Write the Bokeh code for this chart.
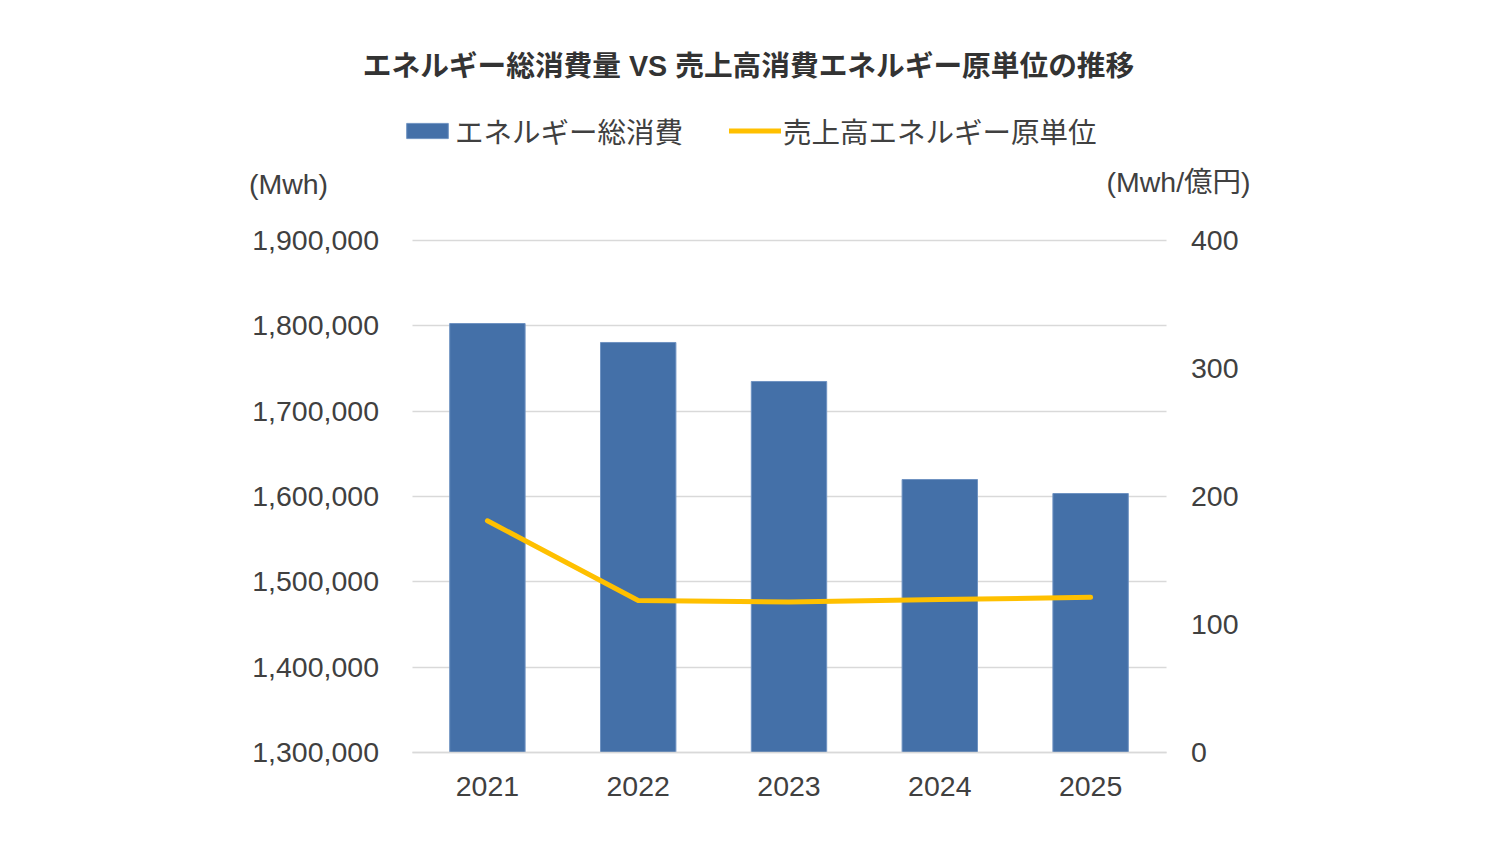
from bokeh.plotting import figure
from bokeh.models import (Range1d, FactorRange, LinearAxis, FixedTicker, NumeralTickFormatter,
                          Legend, LegendItem, Label, ColumnDataSource)
from bokeh.embed import file_html
from bokeh.resources import INLINE

# ---- data ----
years = ["2021", "2022", "2023", "2024", "2025"]
energy_total = [1802700, 1780500, 1734800, 1619900, 1603500]      # Mwh
energy_intensity = [181.0, 118.8, 117.5, 119.5, 121.2]            # Mwh/億円
left_ticks = [1300000, 1400000, 1500000, 1600000, 1700000, 1800000, 1900000]
right_ticks = [0, 100, 200, 300, 400]

title_text = "エネルギー総消費量 VS 売上高消費エネルギー原単位の推移"
bar_name = "エネルギー総消費"
line_name = "売上高エネルギー原単位"
left_unit = "(Mwh)"
right_unit = "(Mwh/億円)"

FONT = "Liberation Sans, Arial, Noto Sans CJK JP, sans-serif"
TXT = "#404040"
BAR = "#4470A8"
LINE = "#FFC000"
FS = "28.5px"

# ---- layout geometry (pixels) ----
W, H = 1500, 846
FRAME_L, FRAME_R_BORDER = 200, 123
PLOT_L, PLOT_R = 411.5, 1165.5        # visible plotting area (axes positions)
PLOT_TOP, PLOT_BOT = 240, 752
ncat = len(years)
unit_px = (PLOT_R - PLOT_L) / ncat
frame_w = W - FRAME_L - FRAME_R_BORDER
pad = (frame_w / unit_px - ncat) / 2
ymin, ymax = left_ticks[0], left_ticks[-1]
rmin, rmax = right_ticks[0], right_ticks[-1]


def dx(px):
    return (px - PLOT_L) / unit_px


def dy(py):
    return ymin + (PLOT_BOT - py) * (ymax - ymin) / (PLOT_BOT - PLOT_TOP)


def dr(py):
    return rmin + (PLOT_BOT - py) * (rmax - rmin) / (PLOT_BOT - PLOT_TOP)


src = ColumnDataSource(dict(year=years, total=energy_total, inten=energy_intensity))

p = figure(width=W, height=H,
           x_range=FactorRange(*years, range_padding=pad, range_padding_units="absolute"),
           y_range=Range1d(dy(H), dy(0)),
           output_backend="svg", toolbar_location=None, title=None,
           min_border_left=FRAME_L, min_border_right=FRAME_R_BORDER,
           min_border_top=0, min_border_bottom=0)
p.outline_line_color = None
p.background_fill_color = "white"
p.border_fill_color = "white"
p.extra_y_ranges = {"r": Range1d(dr(H), dr(0))}

# grid (only over the plotting area)
p.xgrid.grid_line_color = None
p.ygrid.grid_line_color = "#D9D9D9"
p.ygrid.grid_line_width = 1.5
try:
    p.ygrid.cross_bounds = (0, ncat)
except Exception:
    p.ygrid.visible = False
    p.segment(x0=0, x1=ncat, y0=left_ticks, y1=left_ticks,
              line_color="#D9D9D9", line_width=1.5, level="underlay")

bars = p.vbar(x="year", top="total", bottom=ymin, width=0.5, source=src,
              fill_color=BAR, line_color="#6F93C2", line_width=1)
ln = p.line(x="year", y="inten", source=src, y_range_name="r",
            line_color=LINE, line_width=5, line_cap="round", line_join="round")

# axes
p.yaxis.ticker = FixedTicker(ticks=left_ticks)
p.yaxis.formatter = NumeralTickFormatter(format="0,0")
p.yaxis.fixed_location = 0
p.xaxis.fixed_location = ymin
for ax in [p.yaxis[0], p.xaxis[0]]:
    ax.major_tick_line_color = None
    ax.minor_tick_line_color = None
    ax.major_tick_out = 0
    ax.major_tick_in = 0
    ax.major_label_text_font = FONT
    ax.major_label_text_font_size = FS
    ax.major_label_text_color = TXT
p.yaxis.axis_line_color = None
p.xaxis.axis_line_color = "#D9D9D9"
p.xaxis.axis_line_width = 1.5
p.xaxis.bounds = (0, ncat)
p.yaxis.major_label_standoff = 33
p.xaxis.major_label_standoff = 24

rax = LinearAxis(y_range_name="r", ticker=FixedTicker(ticks=right_ticks), fixed_location=ncat)
rax.axis_line_color = None
rax.major_tick_line_color = None
rax.minor_tick_line_color = None
rax.major_tick_out = 0
rax.major_tick_in = 0
rax.major_label_text_font = FONT
rax.major_label_text_font_size = FS
rax.major_label_text_color = TXT
rax.major_label_standoff = 25
p.add_layout(rax, "right")

# legend
legend = Legend(items=[LegendItem(label=bar_name, renderers=[bars]),
                       LegendItem(label=line_name, renderers=[ln])],
                orientation="horizontal", location=(401 - FRAME_L, H - 151),
                label_text_font=FONT, label_text_font_size=FS,
                label_text_color=TXT, glyph_width=52, glyph_height=19,
                label_standoff=2, spacing=46, padding=0, margin=0,
                border_line_color=None, background_fill_alpha=0)
p.add_layout(legend, "center")

# title and unit labels
p.add_layout(Label(x=dx(748), y=dy(65), text=title_text,
                   text_align="center", text_baseline="middle", text_font=FONT,
                   text_font_size="28.7px", text_font_style="bold", text_color="#333333"))
p.add_layout(Label(x=dx(288), y=dy(183), text=left_unit,
                   text_align="center", text_baseline="middle", text_font=FONT,
                   text_font_size=FS, text_color=TXT))
p.add_layout(Label(x=dx(1178), y=dy(181), text=right_unit,
                   text_align="center", text_baseline="middle", text_font=FONT,
                   text_font_size=FS, text_color=TXT))

open("out.html", "w").write(file_html(p, INLINE))
